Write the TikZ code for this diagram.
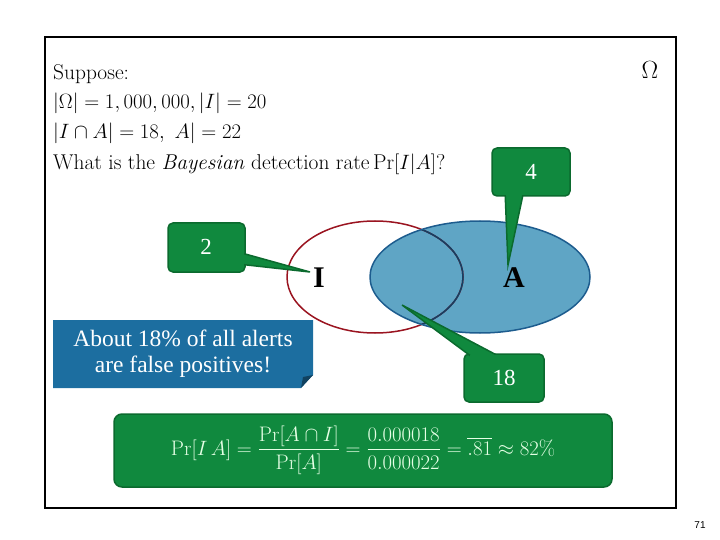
\documentclass[tikz,border=0pt]{standalone}
\usepackage{amsmath}
\usepackage{fontspec}
\newfontfamily\calfont{Liberation Serif}
\newfontfamily\numfont{Liberation Sans}
\usetikzlibrary{shapes.geometric}
\definecolor{cgreen}{HTML}{10893E}
\definecolor{cgreenb}{HTML}{0B6A2E}
\definecolor{cblue}{HTML}{5FA5C5}
\definecolor{cblueb}{HTML}{1D5C8E}
\definecolor{cred}{HTML}{9A1420}
\definecolor{nblue}{HTML}{1C6EA0}
\begin{document}
\begin{tikzpicture}[x=1pt,y=-1pt,
  call/.style={draw=cgreenb,line width=1.5pt,fill=cgreen,rounded corners=5pt},
  ptr/.style={fill=cgreen,draw=cgreenb,line width=1.5pt,line join=miter},
  inner/.style={fill=cgreen},
  ctext/.style={text=white,font=\calfont\fontsize{23}{25}\selectfont},
  body/.style={anchor=west,inner sep=0,font=\fontsize{21.4}{23}\selectfont}]
\useasboundingbox (0,0) rectangle (720,540);
\draw[line width=2pt] (45,37) rectangle (676,508);
\node[inner sep=0,font=\fontsize{27}{29}\selectfont] (om) at (650,70) {$\Omega$};
\node[body] (t1) at (53,74) {Suppose:};
\node[body] (t2) at (53,103) {$|\Omega| = 1,000,000, |I| = 20$};
\node[body] (t3) at (53,133) {$|I\cap A| = 18,\ A| = 22$};
\node[body] (t4) at (53,164) {What is the \textit{Bayesian} detection rate\,$\Pr[I|A]$?};
% Venn
\fill[cblue] (480,277) ellipse [x radius=110,y radius=56];
\draw[cred,line width=1.5pt] (375,277) ellipse [x radius=88,y radius=56];
\begin{scope}
\clip (480,277) ellipse [x radius=110,y radius=56];
\draw[color=cblueb!70!black,line width=1.5pt] (375,277) ellipse [x radius=88,y radius=56];
\end{scope}
\draw[cblueb,line width=1.5pt] (480,277) ellipse [x radius=110,y radius=56];
\node[font=\calfont\bfseries\fontsize{30}{32}\selectfont] (I) at (319,278) {I};
\node[font=\calfont\bfseries\fontsize{30}{32}\selectfont] (A) at (514,278) {A};
% callout 2
\coordinate (p2) at (310,272);
\draw[call] (168,223) rectangle (245,272);
\draw[ptr] (238,252) -- (p2) -- (238,264) -- cycle;
\fill[inner] (234,249) rectangle (244.2,267);
\node[ctext] (n2) at (206,247) {2};
% callout 4
\coordinate (p4) at (508,265);
\draw[call] (492,148) rectangle (570,196);
\draw[ptr] (524,190) -- (p4) -- (505,190) -- cycle;
\fill[inner] (502,186) rectangle (527,195.2);
\node[ctext] (n4) at (531,172) {4};
% callout 18
\coordinate (p18) at (402,305);
\draw[call] (464,354) rectangle (544,402);
\draw[ptr] (476,360) -- (p18) -- (506,360) -- cycle;
\fill[inner] (470,354.8) rectangle (512,364);
\node[ctext] (n18) at (504,378) {18};
% formula
\draw[call,rounded corners=8pt] (114,414) rectangle (612,487);
\node[text=white!90!green,font=\fontsize{21}{23}\selectfont] (f) at (363,450)
 {$\Pr[I\,A] = \dfrac{\Pr[A\cap I]}{\Pr[A]} = \dfrac{0.000018}{0.000022} = \overline{.81} \approx 82\%$};
% blue note
\fill[nblue] (53,320) -- (313,320) -- (313,375) -- (301,388) -- (53,388) -- cycle;
\fill[nblue!60!black] (313,375) -- (301,388) -- (303,377) -- cycle;
\node[text=white,align=center,font=\calfont\fontsize{23.5}{26}\selectfont] (note) at (183,354) {About 18\% of all alerts\\are false positives!};
\node[font=\numfont\fontsize{10}{12}\selectfont] (pg) at (700,525) {71};
\end{tikzpicture}
\end{document}
